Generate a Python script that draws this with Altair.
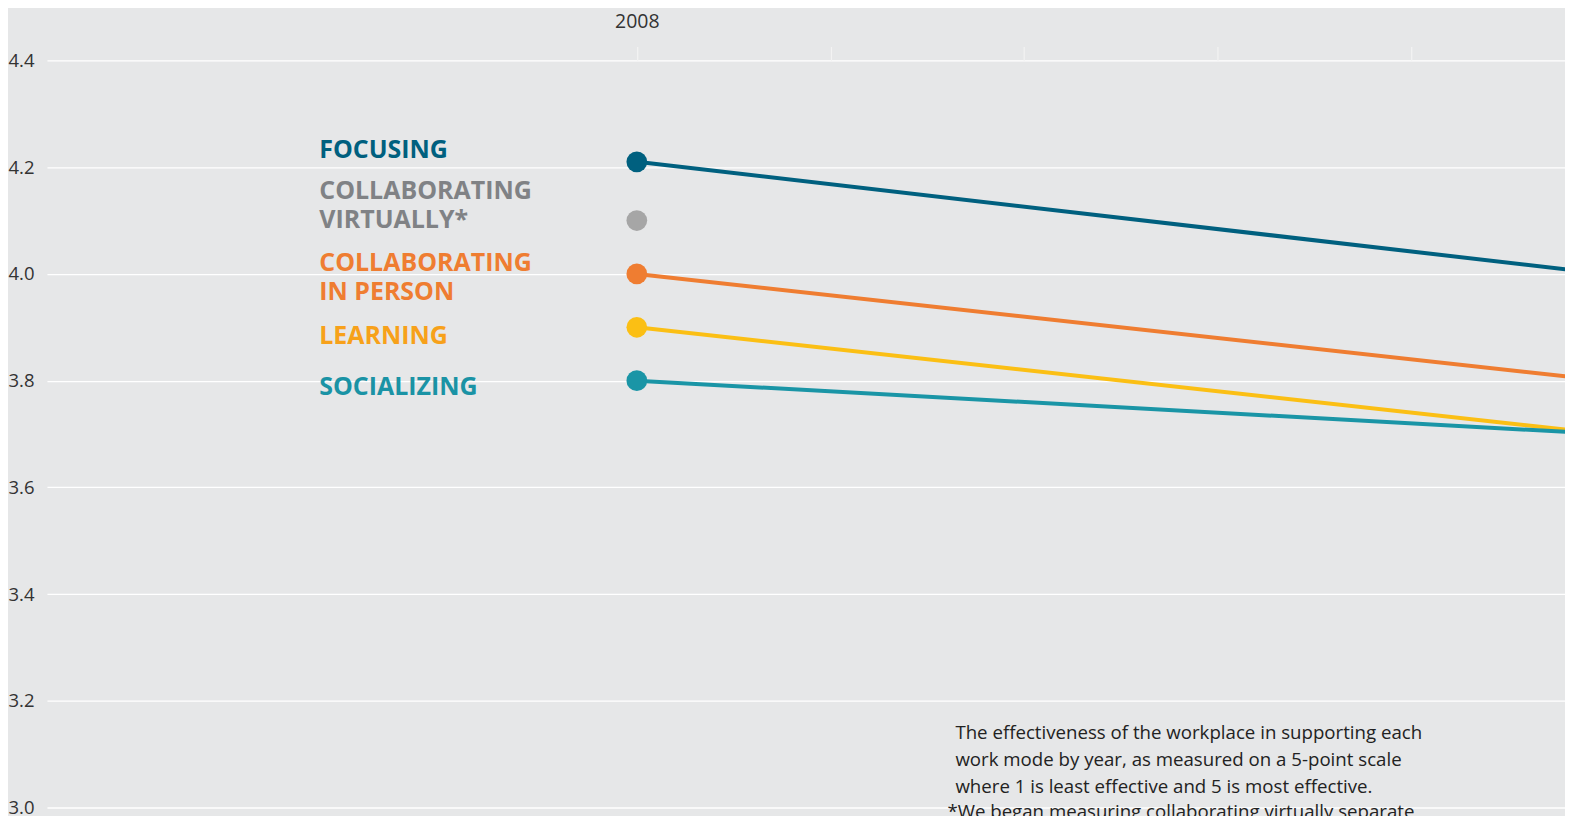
import altair as alt
import pandas as pd

# ---- data ----
years = [2008, 2013]
modes = ["FOCUSING", "COLLABORATING VIRTUALLY*", "COLLABORATING IN PERSON", "LEARNING", "SOCIALIZING"]
focusing = [4.21, 4.00]
collab_virtually = [4.10]          # only measured in 2008 in view
collab_in_person = [4.00, 3.80]
learning = [3.90, 3.70]
socializing = [3.80, 3.70]
tick_years = [2008, 2009, 2010, 2011, 2012]
y_ticks = [3.0, 3.2, 3.4, 3.6, 3.8, 4.0, 4.2, 4.4]
note_lines = [
    "The effectiveness of the workplace in supporting each",
    "work mode by year, as measured on a 5-point scale",
    "where 1 is least effective and 5 is most effective.",
]
footnote = "*We began measuring collaborating virtually separate"

label_lines = {
    "FOCUSING": ["FOCUSING"],
    "COLLABORATING VIRTUALLY*": ["COLLABORATING", "VIRTUALLY*"],
    "COLLABORATING IN PERSON": ["COLLABORATING", "IN PERSON"],
    "LEARNING": ["LEARNING"],
    "SOCIALIZING": ["SOCIALIZING"],
}

# ---- styling ----
line_colors = ["#00607f", "#a6a6a6", "#ef7d31", "#fbbf14", "#1a95a6"]
label_colors = ["#00607f", "#808285", "#ef7d31", "#f7a11a", "#1a93a5"]
label_dy = [-12, -29.5, -10.5, 8.5, 6.5]
BG = "#e6e7e8"

rows = []
for m, vals in zip(modes, [focusing, collab_virtually, collab_in_person, learning, socializing]):
    for yr, v in zip(years, vals):
        rows.append({"mode": m, "year": yr, "value": v})
df = pd.DataFrame(rows)

xscale = alt.Scale(domain=[2004.954, 2012.793], nice=False, zero=False)
yscale = alt.Scale(domain=[3.0, 4.4], nice=False, zero=False)

X = alt.X("year:Q", scale=xscale,
          axis=alt.Axis(orient="top", values=tick_years, title=None, grid=False, domain=False,
                        tickColor="#f3f3f3", tickSize=14, tickWidth=1.2,
                        labelExpr="datum.value == 2008 ? '2008' : ''",
                        labelPadding=15, labelFontSize=19.5, labelColor="#333333",
                        labelFont="Open Sans"))
Y = alt.Y("value:Q", scale=yscale,
          axis=alt.Axis(values=y_ticks, title=None, domain=False, ticks=False,
                        labelAlign="left", labelPadding=39, labelFontSize=18.5,
                        labelColor="#333333", labelFont="Open Sans", format=".1f",
                        grid=True, gridColor="#ffffff", gridWidth=1.3))

color = alt.Color("mode:N", scale=alt.Scale(domain=modes, range=line_colors), legend=None)

lines = alt.Chart(df).mark_line(strokeWidth=4, clip=True).encode(x=X, y=Y, color=color)
points = alt.Chart(df).transform_filter("datum.year == 2008").mark_circle(
    size=430, opacity=1).encode(x=X, y=Y, color=color)

layers = [lines, points]
for m, c, dy in zip(modes, label_colors, label_dy):
    sub = df[(df["mode"] == m) & (df["year"] == 2008)].copy()
    sub["label"] = [label_lines[m]] * len(sub)
    layers.append(
        alt.Chart(sub).mark_text(align="left", baseline="middle", dx=-318, dy=dy,
                                 font="Open Sans", fontWeight="bold", fontSize=25,
                                 lineHeight=28.5, color=c)
        .encode(x=X, y=Y, text="label")
    )

note_df = pd.DataFrame({"year": [2009.645], "value": [3.139], "text": [note_lines]})
layers.append(
    alt.Chart(note_df).mark_text(align="left", baseline="middle", font="Open Sans",
                                 fontSize=18.7, lineHeight=27, color="#222222")
    .encode(x=X, y=Y, text="text")
)
foot_df = pd.DataFrame({"year": [2009.645], "value": [3.139], "text": [footnote]})
layers.append(
    alt.Chart(foot_df).mark_text(align="left", baseline="middle", font="Open Sans",
                                 fontSize=18.7, dx=-8, dy=79, color="#222222")
    .encode(x=X, y=Y, text="text")
)

chart = alt.layer(*layers).properties(
    width=1520, height=748,
    autosize=alt.AutoSizeParams(type="none"),
    padding={"left": 39, "top": 52, "right": 0, "bottom": 40},
    background=BG,
).configure_view(fill=BG, stroke=None)

chart.save("out.html", embed_options={"renderer": "svg", "actions": False})
